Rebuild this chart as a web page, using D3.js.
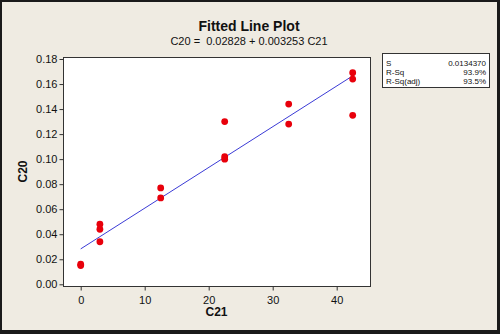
<!DOCTYPE html>
<html><head><meta charset="utf-8">
<script src="https://cdn.jsdelivr.net/npm/d3@7"></script>
<style>html,body{margin:0;padding:0;background:#fff;}svg{display:block;}</style>
</head><body>
<script>
const xValues = [0, 0, 3, 3, 3, 12.5, 12.5, 22.5, 22.5, 22.5, 32.5, 32.5, 42.5, 42.5, 42.5];
const yValues = [0.016, 0.015, 0.048, 0.044, 0.034, 0.077, 0.069, 0.130, 0.102, 0.100, 0.144, 0.128, 0.169, 0.164, 0.135];
const intercept = 0.02828;
const slope = 0.003253;
const xTicks = [0, 10, 20, 30, 40];
const yTicks = [0.00, 0.02, 0.04, 0.06, 0.08, 0.10, 0.12, 0.14, 0.16, 0.18];
const statLabels = ["S", "R-Sq", "R-Sq(adj)"];
const statValues = ["0.0134370", "93.9%", "93.5%"];

const W = 500, H = 334;
const svg = d3.select("body").append("svg").attr("width", W).attr("height", H);
const font = "'Liberation Sans', Arial, sans-serif";

// background + border
svg.append("rect").attr("x",0).attr("y",0).attr("width",W).attr("height",H).attr("fill","#1a1a1a");
svg.append("rect").attr("x",2).attr("y",2).attr("width",W-5).attr("height",H-6).attr("fill","#efebe2");

const frame = {l:63, r:370, t:57, b:286};
const x = d3.scaleLinear().domain([0, 40]).range([80.7, 336.7]);
const y = d3.scaleLinear().domain([0, 0.18]).range([284.3, 59]);

svg.append("rect").attr("x",frame.l+0.5).attr("y",frame.t+0.5)
  .attr("width",frame.r-frame.l).attr("height",frame.b-frame.t)
  .attr("fill","#fff").attr("stroke","#333").attr("stroke-width",1);

// axes
const xAxis = d3.axisBottom(x).tickValues(xTicks).tickFormat(d3.format("d")).tickSize(4).tickSizeOuter(0);
const gx = svg.append("g").attr("transform",`translate(0,${frame.b+0.5})`).call(xAxis);
gx.select(".domain").remove();
gx.selectAll("line").attr("stroke","#333");
gx.selectAll("text").attr("font-family",font).attr("font-size",11).attr("fill","#111").attr("dy","0.95em");

const yAxis = d3.axisLeft(y).tickValues(yTicks).tickFormat(d3.format(".2f")).tickSize(4).tickSizeOuter(0);
const gy = svg.append("g").attr("transform",`translate(${frame.l+0.5},0)`).call(yAxis);
gy.select(".domain").remove();
gy.selectAll("line").attr("stroke","#333");
gy.selectAll("text").attr("font-family",font).attr("font-size",11).attr("fill","#111").attr("x",-6);

// fitted line
const xmin = d3.min(xValues), xmax = d3.max(xValues);
svg.append("line")
  .attr("x1", x(xmin)).attr("y1", y(intercept + slope*xmin))
  .attr("x2", x(xmax)).attr("y2", y(intercept + slope*xmax))
  .attr("stroke","#3b3bd6").attr("stroke-width",1);

// points
svg.append("g").selectAll("circle").data(xValues.map((v,i)=>[v,yValues[i]])).join("circle")
  .attr("cx", d=>x(d[0])).attr("cy", d=>y(d[1])).attr("r",3.4).attr("fill","#e8000b");

// titles
svg.append("text").attr("x",249).attr("y",31).attr("text-anchor","middle")
  .attr("font-family",font).attr("font-weight","bold").attr("font-size",14).attr("fill","#111").text("Fitted Line Plot");
svg.append("text").attr("x",249).attr("y",44.5).attr("text-anchor","middle")
  .attr("font-family",font).attr("font-size",11).attr("fill","#111").text("C20 =\u00a0 0.02828 + 0.003253 C21");

svg.append("text").attr("x",(frame.l+frame.r)/2).attr("y",316).attr("text-anchor","middle")
  .attr("font-family",font).attr("font-weight","bold").attr("font-size",12).attr("fill","#111").text("C21");
svg.append("text").attr("transform",`translate(27,${(frame.t+frame.b)/2}) rotate(-90)`).attr("text-anchor","middle")
  .attr("font-family",font).attr("font-weight","bold").attr("font-size",12).attr("fill","#111").text("C20");

// stats box
const box = {l:382, t:53, r:489, b:87};
svg.append("rect").attr("x",box.l+0.5).attr("y",box.t+0.5).attr("width",box.r-box.l).attr("height",box.b-box.t)
  .attr("fill","#fff").attr("stroke","#333");
const rowY = [65.5, 74.8, 84.1];
statLabels.forEach((s,i)=>{
  svg.append("text").attr("x",box.l+4).attr("y",rowY[i]).attr("font-family",font).attr("font-size",8).attr("fill","#111").text(s);
  svg.append("text").attr("x",box.r-3).attr("y",rowY[i]).attr("text-anchor","end").attr("font-family",font).attr("font-size",8).attr("fill","#111").text(statValues[i]);
});
</script>
</body></html>
